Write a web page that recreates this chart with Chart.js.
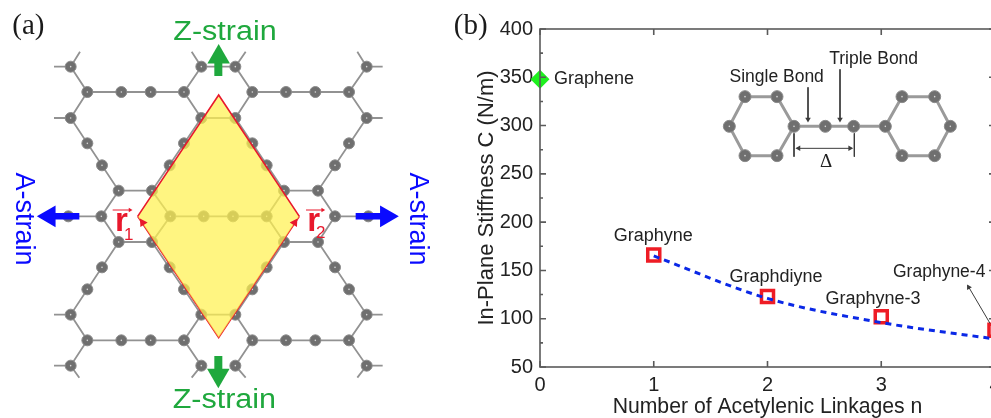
<!DOCTYPE html>
<html>
<head>
<meta charset="utf-8">
<script src="https://cdn.jsdelivr.net/npm/chart.js@4"></script>
<style>
html, body { margin: 0; padding: 0; background: #fff; overflow: hidden; }
#page { position: relative; width: 991px; height: 418px; overflow: hidden; }
#page canvas { position: absolute; left: 0; top: 0; filter: blur(0.35px); }
</style>
</head>
<body>
<div id="page">
    <canvas id="stiffnessChart" width="1030" height="424"></canvas>
    <canvas id="sketchChart" width="991" height="418"></canvas>
</div>
<script>
// panel (b) values
const linkages = [1, 2, 3, 4];
const stiffness = [166, 123, 102, 88];
const fitLine = [165, 121, 96, 79];
const grapheneStiffness = 348;
const xTicks = [0, 1, 2, 3, 4];
const yTicks = [50, 100, 150, 200, 250, 300, 350, 400];

// sketch parts are in a 2973 x 1254 drawing space
const latticeAtoms = [
    [212, 200], [604, 200], [706, 200], [1100, 200],
    [262, 276], [364, 276], [452, 276], [552, 276], [757, 276], [858, 276], [946, 276], [1047, 276],
    [212, 354], [604, 354], [706, 354], [1100, 354],
    [262, 430], [552, 430], [757, 430], [1047, 430],
    [306, 496], [509, 496], [800, 496], [1005, 496],
    [356, 572], [456, 572], [852, 572], [954, 572],
    [205, 649], [304, 649], [511, 649], [611, 649], [699, 649], [800, 649], [1005, 649], [1105, 649],
    [356, 726], [456, 726], [852, 726], [954, 726],
    [306, 802], [509, 802], [800, 802], [1005, 802],
    [262, 868], [552, 868], [757, 868], [1047, 868],
    [212, 944], [604, 944], [706, 944], [1100, 944],
    [262, 1021], [364, 1021], [452, 1021], [552, 1021], [757, 1021], [858, 1021], [946, 1021], [1047, 1021],
    [212, 1097], [604, 1097], [706, 1097], [1100, 1097]
];
const latticeBonds = [
    [[162, 200], [212, 200], [262, 276], [552, 276], [604, 200], [575, 155]],
    [[212, 200], [240, 155]],
    [[604, 200], [706, 200], [757, 276], [1047, 276], [1100, 200], [1148, 200]],
    [[706, 200], [737, 155]],
    [[1100, 200], [1072, 155]],
    [[162, 354], [212, 354], [262, 276]],
    [[552, 276], [604, 354], [706, 354], [757, 276]],
    [[1047, 276], [1100, 354], [1148, 354]],
    [[212, 354], [356, 572], [456, 572], [604, 354]],
    [[706, 354], [852, 572], [954, 572], [1100, 354]],
    [[162, 649], [304, 649], [356, 572]],
    [[304, 649], [356, 726], [456, 726], [511, 649], [456, 572]],
    [[511, 649], [800, 649], [852, 572]],
    [[800, 649], [852, 726], [954, 726], [1005, 649], [954, 572]],
    [[1005, 649], [1148, 649]],
    [[356, 726], [212, 944], [162, 944]],
    [[456, 726], [604, 944], [706, 944], [852, 726]],
    [[954, 726], [1100, 944], [1148, 944]],
    [[212, 944], [262, 1021], [552, 1021], [604, 944]],
    [[706, 944], [757, 1021], [1047, 1021], [1100, 944]],
    [[162, 1097], [212, 1097], [262, 1021]],
    [[212, 1097], [238, 1133]],
    [[552, 1021], [604, 1097], [575, 1133]],
    [[757, 1021], [706, 1097], [737, 1133]],
    [[1047, 1021], [1100, 1097], [1148, 1097]],
    [[1100, 1097], [1072, 1133]]
];
const cellUpper = [[413, 649], [656, 285], [898, 649]];
const cellLower = [[413, 649], [656, 1013], [898, 649]];
const zStems = [[[655, 228], [655, 180]], [[655, 1068], [655, 1120]]];
const aStems = [[[238, 649], [150, 649]], [[1067, 649], [1155, 649]]];
const zHeads = [[656, 171, 0], [655, 1126, 180]];
const aHeads = [[148, 649, -90], [1159, 649, 90]];
const cellArrowHeads = [[428, 668, -33], [884, 668, 33]];
const rBars = [[[338, 630], [390, 630]], [[918, 630], [968, 630]]];
const rBarHeads = [[390, 630, 90], [968, 630, 90]];

const moleculeAtoms = [
    [2235, 290], [2331, 290], [2188, 379], [2382, 379], [2235, 467], [2331, 467],
    [2476, 379], [2561, 379],
    [2656, 379], [2706, 290], [2804, 290], [2851, 379], [2706, 467], [2804, 467]
];
const moleculeBonds = [
    [[2235, 290], [2331, 290], [2382, 379], [2331, 467], [2235, 467], [2188, 379], [2235, 290]],
    [[2382, 379], [2656, 379]],
    [[2656, 379], [2706, 290], [2804, 290], [2851, 379], [2804, 467], [2706, 467], [2656, 379]]
];
const leaders = [
    [[2424, 262], [2424, 360]],
    [[2520, 208], [2520, 360]],
    [[2382, 400], [2382, 470]],
    [[2563, 400], [2563, 470]],
    [[2390, 445], [2556, 445]],
    [[2970, 970], [2903, 856]]
];
const leaderHeads = [
    [2424, 358, 180], [2520, 358, 180], [2396, 445, -90], [2550, 445, 90], [2906, 862, -30]
];

// text, x, y, font, colour, rotation, width stretch, align
const labels = [
    ["(a)", 85, 80, "29px 'Liberation Serif'", "#1a1a1a"],
    ["(b)", 1412, 80, "29px 'Liberation Serif'", "#1a1a1a"],
    ["Z-strain", 675, 97, "27px 'Liberation Sans'", "#1fa83d", 0, 1.13],
    ["Z-strain", 673, 1203, "27px 'Liberation Sans'", "#1fa83d", 0, 1.13],
    ["A-strain", 70, 657, "27px 'Liberation Sans'", "#0a0aff", 90],
    ["A-strain", 1253, 657, "27px 'Liberation Sans'", "#0a0aff", 90],
    ["r", 364, 665, "bold 33px 'Liberation Sans'", "#e8182c"],
    ["1", 386, 706, "17px 'Liberation Sans'", "#e8182c"],
    ["r", 941, 665, "bold 33px 'Liberation Sans'", "#e8182c"],
    ["2", 962, 700, "17px 'Liberation Sans'", "#e8182c"],
    ["Graphene", 1662, 237, "18px 'Liberation Sans'", "#222", 0, 1, "left"],
    ["Single Bond", 2330, 232, "17.5px 'Liberation Sans'", "#222"],
    ["Triple Bond", 2621, 178, "17.5px 'Liberation Sans'", "#222"],
    ["Δ", 2478, 485, "19px 'Liberation Serif'", "#222"],
    ["Graphyne", 1960, 708, "18px 'Liberation Sans'", "#222"],
    ["Graphdiyne", 2328, 830, "18px 'Liberation Sans'", "#222"],
    ["Graphyne-3", 2619, 898, "18px 'Liberation Sans'", "#222"],
    ["Graphyne-4", 2679, 817, "17.5px 'Liberation Sans'", "#222", 0, 1, "left"]
];

const toPoints = list => list.map(p => ({ x: p[0], y: p[1] }));
const toPaths = paths => paths.flatMap(path => [...toPoints(path), { x: NaN, y: NaN }]);

function pathLayer(paths, color, width) {
    return { data: toPaths(paths), borderColor: color, borderWidth: width, pointRadius: 0, showLine: true, fill: false };
}
function atomLayer(list, radius) {
    return { data: toPoints(list), showLine: false, pointRadius: radius, pointBackgroundColor: "#6f6f6f", pointBorderColor: "#8a8a8a", pointBorderWidth: 1 };
}
function glintLayer(list) {
    return { data: toPoints(list), showLine: false, pointRadius: 0.8, pointBackgroundColor: "#d8d8d8", pointBorderWidth: 0 };
}
function headLayer(list, color, radius) {
    return {
        data: toPoints(list), showLine: false, pointStyle: "triangle", pointRadius: radius,
        pointRotation: list.map(p => p[2]), pointBackgroundColor: color, pointBorderWidth: 0
    };
}

const labelPlugin = {
    id: "sketchLabels",
    afterDatasetsDraw(chart) {
        const { ctx, scales } = chart;
        ctx.save();
        ctx.textBaseline = "middle";
        labels.forEach(([text, x, y, font, color, rotation, stretch, align]) => {
            ctx.save();
            ctx.translate(scales.x.getPixelForValue(x), scales.y.getPixelForValue(y));
            ctx.rotate((rotation || 0) * Math.PI / 180);
            ctx.scale(stretch || 1, 1);
            ctx.font = font;
            ctx.fillStyle = color;
            ctx.textAlign = align || "center";
            ctx.fillText(text, 0, 0);
            ctx.restore();
        });
        ctx.restore();
    }
};

// inward ticks on all four sides, top and right lines too
const framePlugin = {
    id: "frameTicks",
    afterDraw(chart) {
        const { ctx, chartArea: a, scales } = chart;
        ctx.save();
        ctx.strokeStyle = "#5a5a5a";
        ctx.lineWidth = 1.6;
        ctx.strokeRect(a.left, a.top, a.right - a.left, a.bottom - a.top);
        ctx.beginPath();
        xTicks.forEach(v => {
            const x = scales.x.getPixelForValue(v);
            ctx.moveTo(x, a.bottom); ctx.lineTo(x, a.bottom - 6);
            ctx.moveTo(x, a.top); ctx.lineTo(x, a.top + 6);
        });
        yTicks.forEach(v => {
            const y = scales.y.getPixelForValue(v);
            ctx.moveTo(a.left, y); ctx.lineTo(a.left + 6, y);
            ctx.moveTo(a.right, y); ctx.lineTo(a.right - 6, y);
            if (v < 400) {
                const m = scales.y.getPixelForValue(v + 25);
                ctx.moveTo(a.left, m); ctx.lineTo(a.left + 3, m);
                ctx.moveTo(a.right, m); ctx.lineTo(a.right - 3, m);
            }
        });
        ctx.stroke();
        ctx.restore();
    }
};

new Chart(document.getElementById("stiffnessChart"), {
    type: "scatter",
    data: {
        datasets: [{
            data: linkages.map((n, i) => ({ x: n, y: fitLine[i] })),
            showLine: true,
            borderColor: "#0a28e6",
            borderWidth: 3,
            borderDash: [6, 5],
            cubicInterpolationMode: "monotone",
            pointRadius: 0,
            clip: false
        }, {
            data: linkages.map((n, i) => ({ x: n, y: stiffness[i] })),
            showLine: false,
            pointStyle: "rect",
            pointRadius: 8.5,
            pointBorderWidth: 3.5,
            pointBorderColor: "#ee1c25",
            pointBackgroundColor: "#fff",
            clip: false
        }, {
            data: [{ x: 0, y: grapheneStiffness }],
            showLine: false,
            pointStyle: "rectRot",
            pointRadius: 9.5,
            pointBorderWidth: 0,
            pointBackgroundColor: "#1ef01e",
            clip: false
        }]
    },
    options: {
        responsive: false,
        animation: false,
        events: [],
        layout: { autoPadding: false, padding: { left: 474, top: 29, right: 35, bottom: 4 } },
        plugins: { legend: { display: false }, tooltip: { enabled: false } },
        scales: {
            x: {
                type: "linear", min: 0, max: 4,
                afterFit(scale) { scale.height = 53; },
                grid: { display: false, drawTicks: false },
                border: { display: false },
                ticks: { stepSize: 1, color: "#222", padding: 6, maxRotation: 0, font: { family: "'Liberation Sans'", size: 20 } },
                title: { display: true, text: "Number of Acetylenic Linkages n", color: "#222", padding: 0, font: { family: "'Liberation Sans'", size: 21.2 } }
            },
            y: {
                type: "linear", min: 50, max: 400,
                afterFit(scale) { scale.width = 66; },
                grid: { display: false, drawTicks: false },
                border: { display: false },
                ticks: { stepSize: 50, color: "#222", padding: 7, font: { family: "'Liberation Sans'", size: 20 } },
                title: { display: true, text: "In-Plane Stiffness C (N/m)", color: "#222", padding: 0, font: { family: "'Liberation Sans'", size: 22 } }
            }
        }
    },
    plugins: [framePlugin]
});

// first layer ends up on top
const sketchLayers = [
    headLayer(cellArrowHeads, "#e8182c", 5),
    headLayer(rBarHeads, "#e8182c", 2.5),
    pathLayer(rBars, "#e8182c", 1),
    headLayer(zHeads, "#1fa83d", 13),
    headLayer(aHeads, "#0a0aff", 12.5),
    pathLayer(zStems, "#1fa83d", 8),
    pathLayer(aStems, "#0a0aff", 6.5),
    {
        data: toPoints(cellUpper), showLine: true, pointRadius: 0, borderColor: "#e8182c", borderWidth: 1.6,
        fill: "+1", backgroundColor: "rgba(255, 241, 80, 0.72)"
    },
    { data: toPoints(cellLower), showLine: true, pointRadius: 0, borderColor: "#e8182c", borderWidth: 1.6, fill: false },
    headLayer(leaderHeads, "#3c3c3c", 3.2),
    pathLayer(leaders, "#3c3c3c", 1),
    glintLayer(latticeAtoms),
    glintLayer(moleculeAtoms),
    atomLayer(latticeAtoms, 5.5),
    atomLayer(moleculeAtoms, 6),
    pathLayer(latticeBonds, "#929292", 1.8),
    pathLayer(moleculeBonds, "#9a9a9a", 3)
];

new Chart(document.getElementById("sketchChart"), {
    type: "scatter",
    data: { datasets: sketchLayers },
    options: {
        responsive: false,
        animation: false,
        events: [],
        layout: { autoPadding: false },
        plugins: { legend: { display: false }, tooltip: { enabled: false } },
        scales: {
            x: { type: "linear", min: 0, max: 2973, display: false },
            y: { type: "linear", min: 0, max: 1254, reverse: true, display: false }
        }
    },
    plugins: [labelPlugin]
});
</script>
</body>
</html>
